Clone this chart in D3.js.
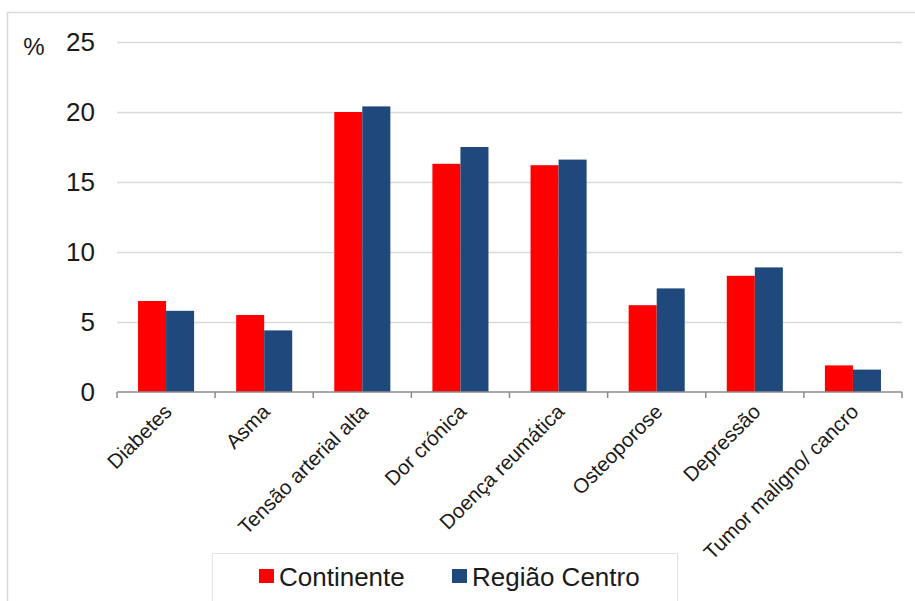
<!DOCTYPE html>
<html>
<head>
<meta charset="utf-8">
<script src="https://cdn.jsdelivr.net/npm/d3@7"></script>
<style>
  body { margin: 0; background: #fff; }
  svg { display: block; font-family: "Liberation Sans", Arial, sans-serif; }
</style>
</head>
<body>
<div id="chart"></div>
<script>
var categories = ["Diabetes", "Asma", "Tensão arterial alta", "Dor crónica", "Doença reumática", "Osteoporose", "Depressão", "Tumor maligno/ cancro"];
var seriesNames = ["Continente", "Região Centro"];
var continente = [6.5, 5.5, 20.0, 16.3, 16.2, 6.2, 8.3, 1.9];
var regiaoCentro = [5.8, 4.4, 20.4, 17.5, 16.6, 7.4, 8.9, 1.6];
var seriesColors = ["#ff0000", "#1f497d"];
var yTicks = [0, 5, 10, 15, 20, 25];

var width = 915, height = 601;
var margin = {top: 42, right: 13, bottom: 209, left: 117};
var innerW = width - margin.left - margin.right;
var innerH = height - margin.top - margin.bottom;

var svg = d3.select("#chart").append("svg")
    .attr("width", width)
    .attr("height", height);

// outer chart border
svg.append("rect")
    .attr("x", 7.5).attr("y", 12.5)
    .attr("width", 920).attr("height", 600)
    .attr("fill", "none")
    .attr("stroke", "#d9d9d9")
    .attr("stroke-width", 1.5);

var g = svg.append("g")
    .attr("transform", "translate(" + margin.left + "," + margin.top + ")");

var x0 = d3.scaleBand()
    .domain(categories)
    .range([0, innerW]);

var x1 = d3.scaleBand()
    .domain(seriesNames)
    .range([0, x0.bandwidth()])
    .paddingOuter(0.75);

var y = d3.scaleLinear()
    .domain([0, 25])
    .range([innerH, 0]);

// gridlines + y labels
var yAxis = d3.axisLeft(y)
    .tickValues(yTicks)
    .tickSize(-innerW)
    .tickPadding(22)
    .tickFormat(d3.format("d"));

var ya = g.append("g").call(yAxis);
ya.select(".domain").remove();
ya.selectAll(".tick line")
    .attr("stroke", "#d9d9d9")
    .attr("stroke-width", 1.5)
    .filter(function(d) { return d === 0; }).remove();
ya.selectAll(".tick text")
    .attr("fill", "#1a1a1a")
    .style("font-size", "26px")
    .attr("dy", "0.34em");

svg.append("text")
    .attr("x", 34)
    .attr("y", 55)
    .attr("text-anchor", "middle")
    .attr("fill", "#1a1a1a")
    .style("font-size", "24px")
    .text("%");

// bars
var rows = categories.map(function(c, i) {
    return {cat: c, values: [continente[i], regiaoCentro[i]]};
});

var groups = g.selectAll(".grp")
    .data(rows)
    .enter().append("g")
    .attr("class", "grp")
    .attr("transform", function(d) { return "translate(" + x0(d.cat) + ",0)"; });

groups.selectAll("rect")
    .data(function(d) { return d.values.map(function(v, j) { return {name: seriesNames[j], value: v, j: j}; }); })
    .enter().append("rect")
    .attr("x", function(d) { return x1(d.name); })
    .attr("y", function(d) { return y(d.value); })
    .attr("width", x1.bandwidth())
    .attr("height", function(d) { return innerH - y(d.value); })
    .attr("fill", function(d) { return seriesColors[d.j]; });

// x axis baseline and category boundary ticks
var bounds = categories.map(function(c) { return x0(c); }).concat([innerW]);
var xa = g.append("g").attr("transform", "translate(0," + innerH + ")");
xa.append("line")
    .attr("x1", 0).attr("x2", innerW)
    .attr("stroke", "#8c8c8c").attr("stroke-width", 1.5);
xa.selectAll(".bt")
    .data(bounds)
    .enter().append("line")
    .attr("x1", function(d) { return d; })
    .attr("x2", function(d) { return d; })
    .attr("y1", 0).attr("y2", 6)
    .attr("stroke", "#8c8c8c").attr("stroke-width", 1.5);

var xAxis = d3.axisBottom(x0).tickSize(0).tickPadding(0);
var xl = g.append("g")
    .attr("transform", "translate(0," + innerH + ")")
    .call(xAxis);
xl.select(".domain").remove();
xl.selectAll(".tick text")
    .attr("fill", "#1a1a1a")
    .style("font-size", "20.5px")
    .attr("text-anchor", "end")
    .attr("dy", 0)
    .attr("y", 0)
    .attr("transform", "translate(7,21) rotate(-45)");

// legend
var legend = svg.append("g").attr("transform", "translate(212,553)");
legend.append("rect")
    .attr("x", 0.5).attr("y", 0.5)
    .attr("width", 465).attr("height", 48)
    .attr("fill", "#fff")
    .attr("stroke", "#e3e3e3")
    .attr("stroke-width", 1);

var legendX = [47, 240];
var items = legend.selectAll(".li")
    .data(seriesNames)
    .enter().append("g")
    .attr("transform", function(d, i) { return "translate(" + legendX[i] + ",0)"; });
items.append("rect")
    .attr("x", 0).attr("y", 16)
    .attr("width", 15).attr("height", 14)
    .attr("fill", function(d, i) { return seriesColors[i]; });
items.append("text")
    .attr("x", 20).attr("y", 33)
    .attr("fill", "#1a1a1a")
    .style("font-size", "26px")
    .text(function(d) { return d; });
</script>
</body>
</html>
